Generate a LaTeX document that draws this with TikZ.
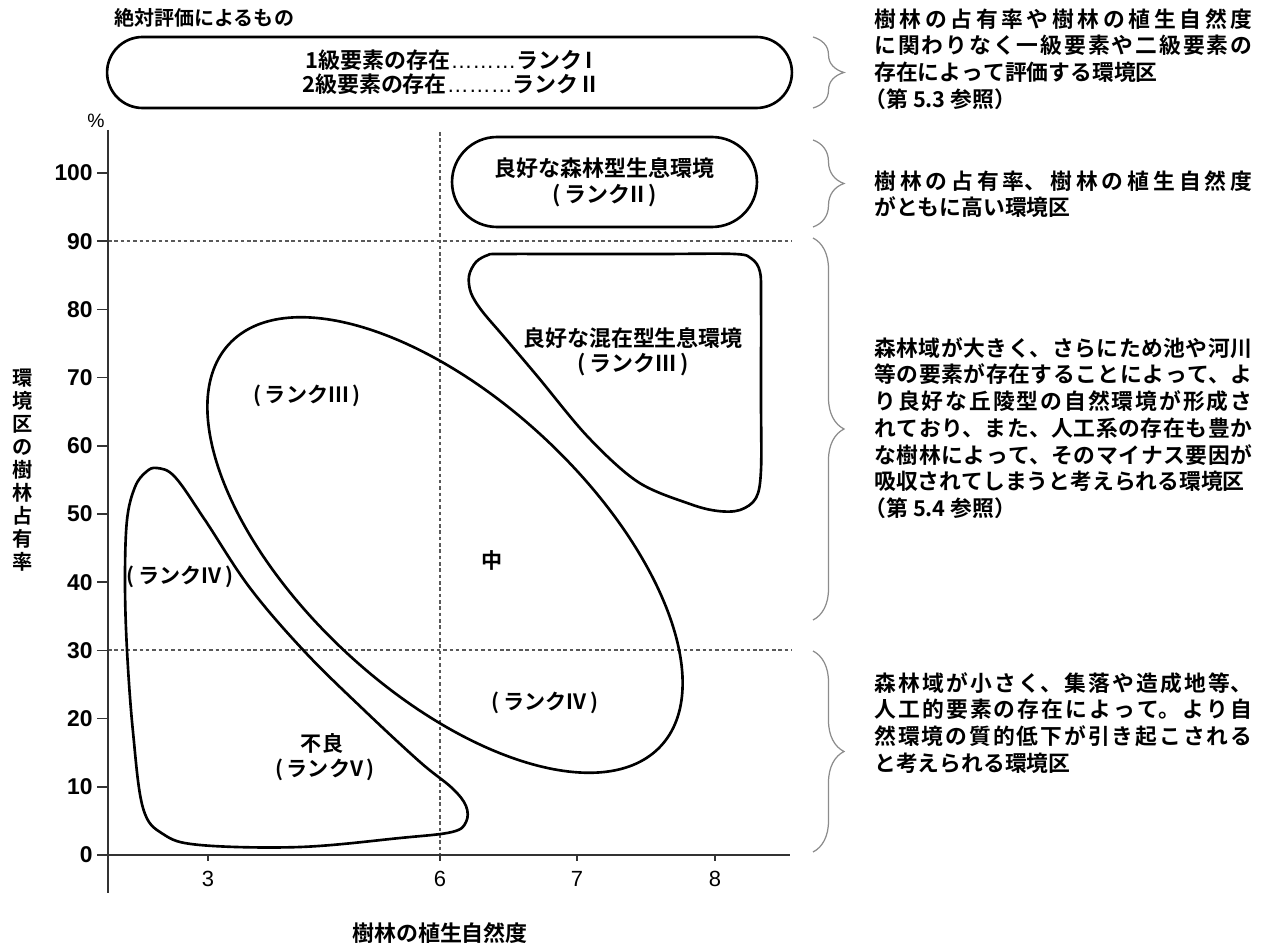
\documentclass[tikz,border=0pt]{standalone}
\usepackage{fontspec}
\setmainfont{Noto Sans CJK JP}[BoldFont={Noto Sans CJK JP Bold}]
\newfontfamily\lat{Liberation Sans}
\usetikzlibrary{decorations.pathreplacing}
\XeTeXlinebreaklocale "ja"
\XeTeXlinebreakskip=0pt plus 6pt
\begin{document}
\begin{tikzpicture}[x=0.02cm, y=-0.02cm]
\tikzset{
  shp/.style={line width=1.5pt, draw=black},
  axisline/.style={line width=0.9pt, draw=black!80},
  gridline/.style={line width=0.6pt, draw=black!65, dash pattern=on 2pt off 1.6pt},
  bracestyle/.style={draw=black!45, line width=0.7pt, decorate, decoration={brace, amplitude=0.62cm}},
  lab/.style={inner sep=0pt, font=\bfseries\fontsize{12}{14}\selectfont},
  ttl/.style={inner sep=0pt, font=\bfseries\fontsize{12.5}{14}\selectfont},
  rtext/.style={anchor=north west, inner sep=0pt, text width=7.56cm, align=justify, font=\bfseries\fontsize{12.4}{15.2}\selectfont},
  ytick/.style={anchor=east, inner sep=0pt, font=\lat\bfseries\fontsize{13}{15}\selectfont},
  xtick/.style={inner sep=0pt, font=\lat\fontsize{12.5}{15}\selectfont},
}
\fill[white] (0,0) rectangle (1271,949);
\useasboundingbox (0,0) rectangle (1271,949);

% title and absolute-evaluation box
\node[anchor=west, inner sep=0pt, font=\bfseries\fontsize{11.4}{13}\selectfont] (title) at (114,18) {絶対評価によるもの};
\node[shp, rounded corners=0.71cm, minimum width=13.7cm, minimum height=1.42cm, inner sep=0pt, align=center, font=\bfseries\fontsize{12.5}{13.7}\selectfont] (absbox) at (449.5,72.5) {1級要素の存在{\lat\mdseries ………}ランク\,I\\2級要素の存在{\lat\mdseries ………}ランク\,II};

% grid lines
\draw[gridline] (108,241) -- (792,241);
\draw[gridline] (108,650) -- (792,650);
\draw[gridline] (440,132) -- (440,855);

% axes
\foreach \v in {0,10,...,100} {
  \draw[axisline] (97,{855-6.82*\v}) -- (108,{855-6.82*\v});
  \node[ytick] (yt\v) at (93,{855-6.82*\v}) {\v};
}
\draw[axisline] (108,130) -- (108,893);
\draw[axisline] (97,855) -- (790,855);
\foreach \xv/\xp in {3/208, 6/440, 7/577, 8/715} {
  \draw[axisline] (\xp,855) -- (\xp,861);
  \node[xtick] (xt\xv) at (\xp,879) {\xv};
}
\node[inner sep=0pt, font=\lat\fontsize{11}{13}\selectfont] (pct) at (96,121) {\%};
\node[ttl] (xtitle) at (440,933) {樹林の植生自然度};
\node[inner sep=0pt, align=center, font=\bfseries\fontsize{11.5}{13.1}\selectfont] (ytitle) at (23,470) {環\\境\\区\\の\\樹\\林\\占\\有\\率};

% forest-type habitat
\node[shp, rounded corners=0.9cm, minimum width=6.1cm, minimum height=1.8cm, inner sep=0pt, align=center, font=\bfseries\fontsize{12.5}{14.8}\selectfont] (forest) at (604.5,182) {良好な森林型生息環境\\(\,ランクII\,)};

% mixed-type habitat (rounded triangle)
\draw[shp] plot[smooth cycle, tension=0.55] coordinates {(500,254) (580,254) (660,254) (735,254) (752,259) (760,272) (761,300) (761,400) (761,470) (756,498) (740,510) (718,511) (690,504) (638,482) (588,437) (538,377) (505,338) (482,311) (471,293) (469,276) (476,262) (488,255)};
\node[lab, align=center, font=\bfseries\fontsize{12.5}{14.2}\selectfont] (mixed) at (633,352) {良好な混在型生息環境\\(\,ランクIII\,)};

% middle ellipse
\draw[shp, rotate around={-43:(445,545)}] (445,545) ellipse [x radius=5.9cm, y radius=2.92cm];

% poor region
\draw[shp] plot[smooth cycle, tension=0.6] coordinates {(157,468) (175,477) (205,520) (250,588) (305,652) (365,711) (420,762) (452,788) (466,806) (466,822) (452,832) (400,838) (300,847) (200,845) (163,834) (143,808) (133,732) (127,650) (125,581) (127,520) (135,487) (146,472)};

% region labels
\node[lab] (l3) at (307,396) {(\,ランクIII\,)};
\node[lab] (l4a) at (180,577) {(\,ランクIV\,)};
\node[lab] (naka) at (492,560) {中};
\node[lab] (l4b) at (545,703) {(\,ランクIV\,)};
\node[lab] (furyo) at (322,743) {不良};
\node[lab] (l5) at (325,770) {(\,ランクV\,)};

% braces
\draw[bracestyle] (813,37) -- (813,108);
\draw[bracestyle] (813,140) -- (813,227);
\draw[bracestyle] (813,238) -- (813,620);
\draw[bracestyle] (813,651) -- (813,852);

% right-hand explanations
\node[rtext] (r1) at (874,8) {\noindent 樹林の占有率や樹林の植生自然度\break に関わりなく一級要素や二級要素の\break 存在によって評価する環境区\hfil\break \hspace*{-0.45em}（第 5.3 参照）};
\node[rtext] (r2) at (874,170) {\noindent 樹林の占有率、樹林の植生自然度\break がともに高い環境区};
\node[rtext] (r3) at (874,337) {\noindent 森林域が大きく、さらにため池や河川\break 等の要素が存在することによって、よ\break り良好な丘陵型の自然環境が形成さ\break れており、また、人工系の存在も豊か\break な樹林によって、そのマイナス要因が\break 吸収されてしまうと考えられる環境区\hfil\break \hspace*{-0.45em}（第 5.4 参照）};
\node[rtext] (r4) at (874,672) {\noindent 森林域が小さく、集落や造成地等、\break 人工的要素の存在によって。より自\break 然環境の質的低下が引き起こされる\break と考えられる環境区};
\end{tikzpicture}
\end{document}
